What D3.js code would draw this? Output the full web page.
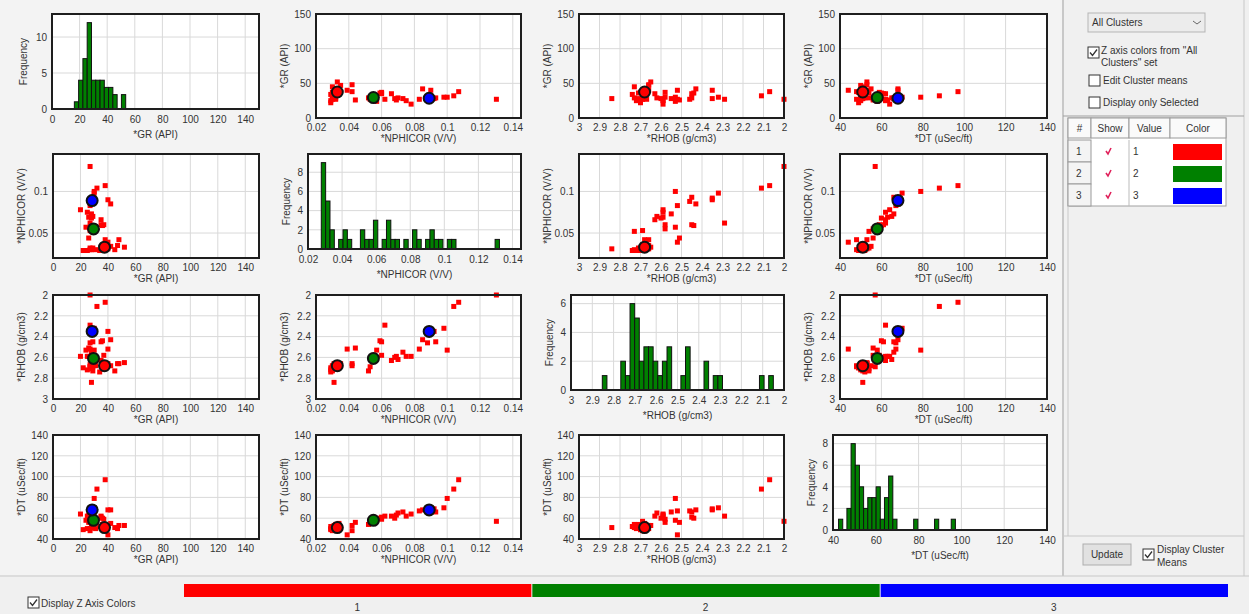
<!DOCTYPE html>
<html>
<head>
<meta charset="utf-8">
<script src="https://cdn.jsdelivr.net/npm/d3@7"></script>
<style>
  body { margin: 0; background: #f0f0f0; }
  svg { display: block; }
  text { font-family: "Liberation Sans", Arial, sans-serif; fill: #333; }
</style>
</head>
<body>
<svg id="chart"></svg>
<script>
// --- data ---
const varNames = ['*GR (API)', '*NPHICOR (V/V)', '*RHOB (g/cm3)', '*DT (uSec/ft)'];

// one entry per sample (46 samples)
const gr   = [22, 25, 27, 28, 31, 34, 37, 40, 45, 27, 29, 28, 36, 52, 42, 47, 40, 38, 48, 26,
              29, 27, 30, 24, 36, 35, 37, 27, 35, 28, 26, 29, 28, 25, 20, 27, 42, 27, 40, 28,
              29, 30, 30, 32, 38, 27];
const nphi = [0.029, 0.029, 0.030, 0.030, 0.030, 0.029, 0.030, 0.031, 0.030, 0.032, 0.032, 0.031, 0.032, 0.033, 0.034, 0.035, 0.039, 0.042, 0.042, 0.044,
              0.052, 0.053, 0.055, 0.057, 0.059, 0.060, 0.060, 0.062, 0.066, 0.068, 0.069, 0.070, 0.073, 0.075, 0.078, 0.083, 0.085, 0.088, 0.090, 0.092,
              0.093, 0.098, 0.100, 0.104, 0.107, 0.130];
const rhob = [2.70, 2.72, 2.69, 2.71, 2.68, 2.74, 2.70, 2.66, 2.73, 2.67, 2.69, 2.84, 2.71, 2.65, 2.68, 2.66, 2.52, 2.68, 2.66, 2.51,
              2.73, 2.69, 2.58, 2.53, 2.44, 2.45, 2.58, 2.29, 2.63, 2.60, 2.59, 2.62, 2.55, 2.59, 2.59, 2.52, 2.43, 2.46, 2.35, 2.35,
              2.45, 2.32, 2.53, 2.11, 2.07, 2.00];
const dt   = [49, 50, 48, 51, 50, 52, 49, 53, 51, 50, 52, 51, 54, 53, 55, 50, 44, 48, 53, 56,
              54, 57, 56, 58, 60, 61, 59, 62, 62, 60, 63, 65, 66, 62, 64, 67, 68, 67, 68, 69,
              66, 70, 79, 88, 97, 57];

// cluster means (1 red, 2 green, 3 blue)
const clusterColors = ['#ff0000', '#008000', '#0000ff'];
const meanGR   = [37.5, 29.5, 28.5];
const meanNPHI = [0.033, 0.055, 0.089];
const meanRHOB = [2.68, 2.61, 2.35];
const meanDT   = [51, 58, 68];

// histograms: first bin edge, bin step, counts
const grHistStart = 16.2, grHistStep = 3.1;
const grHistCounts = [1, 4, 7, 12, 4, 4, 4, 3, 3, 2, 0, 2];
const nphiHistStart = 0.0278, nphiHistStep = 0.00255;
const nphiHistCounts = [9, 5, 2, 0, 1, 2, 1, 0, 0, 2, 1, 1, 3, 0, 1, 3, 1, 1, 0, 1,
                        0, 2, 1, 0, 1, 2, 1, 1, 0, 1, 1, 0, 0, 0, 0, 0, 0, 0, 0, 0, 1];
const rhobHistStart = 2.853, rhobHistStep = -0.0217;
const rhobHistCounts = [1, 0, 0, 0, 2, 1, 6, 5, 2, 3, 3, 2, 1, 2, 3, 0, 0, 1, 3, 0,
                        0, 0, 2, 0, 1, 1, 0, 0, 0, 0, 0, 0, 0, 0, 1, 0, 1];
const dtHistStart = 42.6, dtHistStep = 1.95;
const dtHistCounts = [1, 0, 2, 8, 6, 4, 2, 3, 3, 4, 1, 3, 5, 1, 0, 0, 0, 0, 1, 0,
                      0, 0, 0, 1, 0, 0, 0, 1];

// axis ticks
const grTicks = [0, 20, 40, 60, 80, 100, 120, 140];
const grYTicks = [0, 50, 100, 150];
const nphiTicks = [0.02, 0.04, 0.06, 0.08, 0.1, 0.12, 0.14];
const nphiYTicks = [0.05, 0.1];
const rhobTicks = [3, 2.9, 2.8, 2.7, 2.6, 2.5, 2.4, 2.3, 2.2, 2.1, 2];
const rhobYTicks = [2, 2.2, 2.4, 2.6, 2.8, 3];
const dtTicks = [40, 60, 80, 100, 120, 140];
const freqTicks = [[0, 5, 10], [0, 2, 4, 6, 8], [0, 2, 4, 6], [0, 2, 4, 6, 8]];

const zLabels = ['1', '2', '3'];

// --- layout ---
const W = 1249, H = 614;
const svg = d3.select('#chart').attr('width', W).attr('height', H);

const colL = [53, 316, 579, 840];
const colR = [259, 521, 784, 1047];
const histL = [52, 308, 571, 833];
const rowT = [14, 154, 295, 435];
const scatterH = 104, histH = 95;

const vars = [
  { values: gr, domain: [0, 150], xt: grTicks, yt: grYTicks, mean: meanGR,
    hist: [grHistStart, grHistStep, grHistCounts] },
  { values: nphi, domain: [0.02, 0.145], xt: nphiTicks, yt: nphiYTicks, mean: meanNPHI,
    hist: [nphiHistStart, nphiHistStep, nphiHistCounts] },
  { values: rhob, domain: [3, 2], xt: rhobTicks, yt: rhobYTicks, mean: meanRHOB,
    hist: [rhobHistStart, rhobHistStep, rhobHistCounts] },
  { values: dt, domain: [40, 140], xt: dtTicks, yt: dtTicks, mean: meanDT,
    hist: [dtHistStart, dtHistStep, dtHistCounts] }
];

const fmt = d3.format('~g');

// background of the plot matrix
svg.append('rect').attr('x', 0).attr('y', 0).attr('width', 1062).attr('height', 575)
  .attr('fill', '#f3f3f3');

function frame(g, x, y, w, h) {
  g.append('rect').attr('x', x).attr('y', y).attr('width', w).attr('height', h)
    .attr('fill', 'none').attr('stroke', '#1e1e1e').attr('stroke-width', 2);
}

function drawAxes(g, xScale, yScale, xt, yt, x0, x1, y0, y1, tickGap) {
  // grid
  g.append('g').selectAll('line').data(xt).join('line')
    .attr('x1', d => xScale(d)).attr('x2', d => xScale(d))
    .attr('y1', y0).attr('y2', y1).attr('stroke', '#d9d9d9');
  g.append('g').selectAll('line').data(yt).join('line')
    .attr('y1', d => yScale(d)).attr('y2', d => yScale(d))
    .attr('x1', x0).attr('x2', x1).attr('stroke', '#d9d9d9');
  // tick labels
  const xa = d3.axisBottom(xScale).tickValues(xt).tickFormat(fmt).tickSize(0).tickPadding(tickGap);
  const ya = d3.axisLeft(yScale).tickValues(yt).tickFormat(fmt).tickSize(0).tickPadding(5);
  g.append('g').attr('transform', `translate(0,${y1})`).call(xa)
    .call(a => a.select('.domain').remove())
    .selectAll('text').attr('font-size', 10).attr('fill', '#333');
  g.append('g').attr('transform', `translate(${x0},0)`).call(ya)
    .call(a => a.select('.domain').remove())
    .selectAll('text').attr('font-size', 10).attr('fill', '#333');
}

function drawScatter(r, c) {
  const g = svg.append('g');
  const x0 = colL[c], x1 = colR[c], y0 = rowT[r], y1 = rowT[r] + scatterH;
  const vx = vars[c], vy = vars[r];
  const xScale = d3.scaleLinear().domain(vx.domain).range([x0, x1]);
  const yScale = d3.scaleLinear().domain(vy.domain).range([y1, y0]);
  g.append('rect').attr('x', x0).attr('y', y0).attr('width', x1 - x0).attr('height', y1 - y0)
    .attr('fill', '#fff');
  drawAxes(g, xScale, yScale, vx.xt, vy.yt, x0, x1, y0, y1, 6);

  const pts = d3.range(gr.length).filter(i => {
    const px = xScale(vx.values[i]), py = yScale(vy.values[i]);
    return px >= x0 - 1 && px <= x1 + 1 && py >= y0 - 1 && py <= y1 + 1;
  });
  g.append('g').selectAll('rect').data(pts).join('rect')
    .attr('x', i => xScale(vx.values[i]) - 2.5)
    .attr('y', i => yScale(vy.values[i]) - 2.5)
    .attr('width', 5).attr('height', 5)
    .attr('fill', '#ff0000');

  // cluster means (the RHOB x-axis column only shows cluster 1)
  const shown = c === 2 ? [0] : [0, 1, 2];
  g.append('g').selectAll('circle').data(shown).join('circle')
    .attr('cx', k => xScale(vx.mean[k]))
    .attr('cy', k => yScale(vy.mean[k]))
    .attr('r', 5.5)
    .attr('fill', k => clusterColors[k])
    .attr('stroke', '#111').attr('stroke-width', 2);

  frame(g, x0, y0, x1 - x0, y1 - y0);

  g.append('text').attr('x', (x0 + x1) / 2).attr('y', y1 + 24)
    .attr('text-anchor', 'middle').attr('font-size', 10).text(varNames[c]);
  g.append('text')
    .attr('transform', `translate(${x0 - 28},${(y0 + y1) / 2}) rotate(-90)`)
    .attr('text-anchor', 'middle').attr('font-size', 10).text(varNames[r]);
}

function drawHist(k) {
  const g = svg.append('g');
  const x0 = histL[k], x1 = colR[k], y0 = rowT[k], y1 = rowT[k] + histH;
  const v = vars[k];
  const [start, step, counts] = v.hist;
  const maxC = d3.max(counts);
  const xScale = d3.scaleLinear().domain(v.domain).range([x0, x1]);
  const yScale = d3.scaleLinear().domain([0, maxC * 1.1]).range([y1, y0]);
  g.append('rect').attr('x', x0).attr('y', y0).attr('width', x1 - x0).attr('height', y1 - y0)
    .attr('fill', '#fff');
  drawAxes(g, xScale, yScale, v.xt, freqTicks[k], x0, x1, y0, y1, 7);

  const bins = counts.map((n, i) => ({ a: start + i * step, b: start + (i + 1) * step, n }))
    .filter(d => d.n > 0);
  g.append('g').selectAll('rect').data(bins).join('rect')
    .attr('x', d => Math.min(xScale(d.a), xScale(d.b)))
    .attr('width', d => Math.abs(xScale(d.b) - xScale(d.a)))
    .attr('y', d => yScale(d.n))
    .attr('height', d => y1 - yScale(d.n))
    .attr('fill', '#008000').attr('stroke', '#111').attr('stroke-width', 1);

  frame(g, x0, y0, x1 - x0, y1 - y0);

  g.append('text').attr('x', (x0 + x1) / 2).attr('y', y1 + 29)
    .attr('text-anchor', 'middle').attr('font-size', 10).text(varNames[k]);
  const off = maxC >= 10 ? 25 : 18;
  g.append('text')
    .attr('transform', `translate(${x0 - off},${(y0 + y1) / 2}) rotate(-90)`)
    .attr('text-anchor', 'middle').attr('font-size', 10).text('Frequency');
}

for (let r = 0; r < 4; r++) {
  for (let c = 0; c < 4; c++) {
    if (r === c) drawHist(r); else drawScatter(r, c);
  }
}

// --- right side control panel ---
const side = svg.append('g');
side.append('line').attr('x1', 1063).attr('x2', 1063).attr('y1', 0).attr('y2', 576)
  .attr('stroke', '#a0a0a0');
side.append('line').attr('x1', 1244).attr('x2', 1244).attr('y1', 0).attr('y2', 576)
  .attr('stroke', '#c8c8c8');
side.append('rect').attr('x', 1088).attr('y', 13).attr('width', 117).attr('height', 19)
  .attr('fill', '#ececec').attr('stroke', '#b5b5b5');
side.append('text').attr('x', 1092).attr('y', 26).attr('font-size', 10).text('All Clusters');
side.append('path').attr('d', 'M1193,21 l4,3 l4,-3').attr('fill', 'none').attr('stroke', '#666');

function checkbox(g, x, y, checked) {
  g.append('rect').attr('x', x).attr('y', y).attr('width', 11).attr('height', 11)
    .attr('fill', '#fff').attr('stroke', '#333');
  if (checked) {
    g.append('path').attr('d', `M${x + 2},${y + 5.5} l2.5,3 l4.5,-6`)
      .attr('fill', 'none').attr('stroke', '#333').attr('stroke-width', 1.3);
  }
}
checkbox(side, 1088, 47, true);
side.append('text').attr('x', 1101).attr('y', 54).attr('font-size', 10).text('Z axis colors from "All');
side.append('text').attr('x', 1101).attr('y', 66).attr('font-size', 10).text('Clusters" set');
checkbox(side, 1089, 75, false);
side.append('text').attr('x', 1103).attr('y', 84).attr('font-size', 10).text('Edit Cluster means');
checkbox(side, 1089, 97, false);
side.append('text').attr('x', 1103).attr('y', 106).attr('font-size', 10).text('Display only Selected');
side.append('line').attr('x1', 1063).attr('x2', 1244).attr('y1', 116).attr('y2', 116)
  .attr('stroke', '#a0a0a0');

// table
const colX = [1068, 1091, 1129, 1170, 1226];
const headers = ['#', 'Show', 'Value', 'Color'];
const rowY = [118, 140, 162, 184, 206];
side.append('rect').attr('x', 1068).attr('y', 118).attr('width', 158).attr('height', 88)
  .attr('fill', '#fff').attr('stroke', '#a0a0a0');
headers.forEach((h, i) => {
  side.append('rect').attr('x', colX[i]).attr('y', rowY[0]).attr('width', colX[i + 1] - colX[i])
    .attr('height', 20).attr('fill', '#fafafa').attr('stroke', '#9a9a9a');
  side.append('text').attr('x', (colX[i] + colX[i + 1]) / 2).attr('y', rowY[0] + 14)
    .attr('text-anchor', 'middle').attr('font-size', 10).text(h);
});
zLabels.forEach((lab, j) => {
  const y = rowY[j + 1];
  side.append('rect').attr('x', colX[0]).attr('y', y).attr('width', colX[1] - colX[0])
    .attr('height', 22).attr('fill', '#f4f4f4').attr('stroke', '#9a9a9a');
  side.append('text').attr('x', colX[0] + 8).attr('y', y + 15).attr('font-size', 10).text(lab);
  side.append('path').attr('d', `M${1106},${y + 11} l2,3 l3,-6`)
    .attr('fill', 'none').attr('stroke', '#e0205a').attr('stroke-width', 1.6);
  side.append('line').attr('x1', colX[2]).attr('x2', colX[2]).attr('y1', y).attr('y2', y + 22)
    .attr('stroke', '#bbb');
  side.append('text').attr('x', colX[2] + 4).attr('y', y + 15).attr('font-size', 10).text(lab);
  side.append('rect').attr('x', 1173).attr('y', y + 4).attr('width', 49).attr('height', 16)
    .attr('fill', clusterColors[j]);
});

side.append('line').attr('x1', 1068).attr('x2', 1068).attr('y1', 206).attr('y2', 536)
  .attr('stroke', '#c8c8c8');
side.append('line').attr('x1', 1063).attr('x2', 1244).attr('y1', 536).attr('y2', 536)
  .attr('stroke', '#c8c8c8');
side.append('rect').attr('x', 1083).attr('y', 544).attr('width', 48).attr('height', 21)
  .attr('fill', '#e1e1e1').attr('stroke', '#adadad');
side.append('text').attr('x', 1107).attr('y', 558).attr('text-anchor', 'middle')
  .attr('font-size', 10).text('Update');
checkbox(side, 1143, 549, true);
side.append('text').attr('x', 1157).attr('y', 553).attr('font-size', 10).text('Display Cluster');
side.append('text').attr('x', 1157).attr('y', 566).attr('font-size', 10).text('Means');

// --- bottom Z axis colour bar ---
const bottom = svg.append('g');
bottom.append('line').attr('x1', 0).attr('x2', 1249).attr('y1', 576).attr('y2', 576)
  .attr('stroke', '#c8c8c8');
checkbox(bottom, 28, 597, true);
bottom.append('text').attr('x', 41).attr('y', 607).attr('font-size', 10).text('Display Z Axis Colors');
const zScale = d3.scaleBand().domain(zLabels).range([183, 1228]);
bottom.selectAll('rect.z').data(zLabels).join('rect').attr('class', 'z')
  .attr('x', d => zScale(d) + 1).attr('y', 584)
  .attr('width', zScale.bandwidth() - 1).attr('height', 13)
  .attr('fill', (d, i) => clusterColors[i]);
bottom.selectAll('text.z').data(zLabels).join('text').attr('class', 'z')
  .attr('x', d => zScale(d) + zScale.bandwidth() / 2).attr('y', 611)
  .attr('text-anchor', 'middle').attr('font-size', 10).text(d => d);
</script>
</body>
</html>
